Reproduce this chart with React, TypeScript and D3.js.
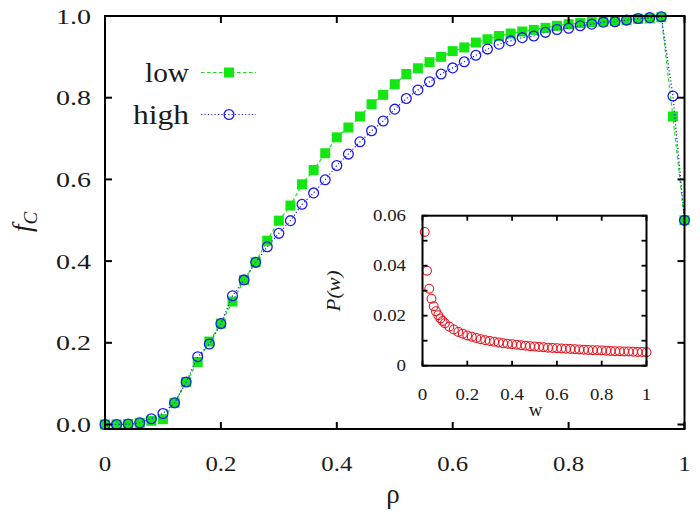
import React from "react";
import * as d3 from "d3";

const rho = [0, 0.02, 0.04, 0.06, 0.08, 0.1, 0.12, 0.14, 0.16, 0.18, 0.2, 0.22, 0.24, 0.26, 0.28, 0.3, 0.32, 0.34, 0.36, 0.38, 0.4, 0.42, 0.44, 0.46, 0.48, 0.5, 0.52, 0.54, 0.56, 0.58, 0.6, 0.62, 0.64, 0.66, 0.68, 0.7, 0.72, 0.74, 0.76, 0.78, 0.8, 0.82, 0.84, 0.86, 0.88, 0.9, 0.92, 0.94, 0.96, 0.98, 1.0];

const low = [0.0, 0.0, 0.001, 0.004, 0.009, 0.013, 0.053, 0.104, 0.153, 0.203, 0.247, 0.301, 0.354, 0.397, 0.45, 0.499, 0.536, 0.588, 0.623, 0.664, 0.703, 0.727, 0.754, 0.784, 0.807, 0.833, 0.858, 0.872, 0.887, 0.9, 0.914, 0.923, 0.935, 0.943, 0.951, 0.957, 0.962, 0.966, 0.971, 0.976, 0.98, 0.983, 0.985, 0.986, 0.988, 0.99, 0.993, 0.994, 0.997, 0.754, 0.5];

const high = [0.0, 0.0, 0.001, 0.004, 0.014, 0.027, 0.053, 0.104, 0.166, 0.197, 0.247, 0.315, 0.354, 0.397, 0.435, 0.468, 0.499, 0.539, 0.567, 0.599, 0.634, 0.662, 0.692, 0.719, 0.743, 0.772, 0.798, 0.819, 0.839, 0.858, 0.873, 0.888, 0.904, 0.919, 0.931, 0.939, 0.947, 0.951, 0.96, 0.967, 0.97, 0.976, 0.98, 0.985, 0.986, 0.99, 0.994, 0.996, 0.998, 0.804, 0.5];

const wVals = [0.01, 0.02, 0.03, 0.04, 0.05, 0.06, 0.07, 0.08, 0.09, 0.1, 0.12, 0.14, 0.16, 0.18, 0.2, 0.22, 0.24, 0.26, 0.28, 0.3, 0.32, 0.34, 0.36, 0.38, 0.4, 0.42, 0.44, 0.46, 0.48, 0.5, 0.52, 0.54, 0.56, 0.58, 0.6, 0.62, 0.64, 0.66, 0.68, 0.7, 0.72, 0.74, 0.76, 0.78, 0.8, 0.82, 0.84, 0.86, 0.88, 0.9, 0.92, 0.94, 0.96, 0.98, 1.0];

const pw = [0.0535, 0.038, 0.0308, 0.0268, 0.0238, 0.0218, 0.0202, 0.0189, 0.0179, 0.017, 0.0156, 0.0145, 0.0135, 0.0128, 0.0121, 0.0116, 0.0111, 0.0106, 0.0102, 0.0099, 0.0096, 0.0093, 0.009, 0.0088, 0.0086, 0.0084, 0.0082, 0.008, 0.0078, 0.0077, 0.0075, 0.0074, 0.0072, 0.0071, 0.007, 0.0069, 0.0068, 0.0067, 0.0066, 0.0065, 0.0064, 0.0063, 0.0062, 0.0062, 0.0061, 0.006, 0.0059, 0.0058, 0.0058, 0.0057, 0.0057, 0.0056, 0.0055, 0.0055, 0.0054];

const mainXTicks = [0, 0.2, 0.4, 0.6, 0.8, 1];
const mainXLabels = ["0", "0.2", "0.4", "0.6", "0.8", "1"];
const mainYTicks = [0, 0.2, 0.4, 0.6, 0.8, 1.0];
const mainYLabels = ["0.0", "0.2", "0.4", "0.6", "0.8", "1.0"];
const insetXTicks = [0, 0.2, 0.4, 0.6, 0.8, 1];
const insetXLabels = ["0", "0.2", "0.4", "0.6", "0.8", "1"];
const insetYTicks = [0, 0.01, 0.02, 0.03, 0.04, 0.05, 0.06];
const insetYLabelTicks = [0, 0.02, 0.04, 0.06];
const insetYLabels = ["0", "0.02", "0.04", "0.06"];

const GREEN = "#14e614";
const BLUE = "#1a1aee";
const RED = "#e8141e";
const FONT = '"Liberation Serif", "Times New Roman", "DejaVu Serif", serif';

const T = (props: any) => <text {...props} style={{ fontFamily: FONT, ...(props.style || {}) }} />;

const stretchLen = (s: string, perChar: number, perDot: number) =>
  s.split("").reduce((a, c) => a + (c === "." ? perDot : perChar), 0);

export default function App() {
  const x = d3.scaleLinear().domain([0, 1]).range([105, 684.5]);
  const y = d3.scaleLinear().domain([-0.011, 1.0]).range([429, 16]);
  const ix = d3.scaleLinear().domain([0, 1]).range([422.5, 646.5]);
  const iy = d3.scaleLinear().domain([0, 0.06]).range([365.7, 215.7]);

  const lowPts = rho.map((r, i) => [r, low[i]] as [number, number]);
  const highPts = rho.map((r, i) => [r, high[i]] as [number, number]);
  const line = d3
    .line<[number, number]>()
    .x((d) => x(d[0]))
    .y((d) => y(d[1]));

  const [x0, x1] = x.range();
  const [yb, yt] = y.range();
  const [ix0, ix1] = ix.range();
  const [iyb, iyt] = iy.range();
  const tl = 7;
  const itl = 5;
  const sq = 10;
  const cr = 4.9;

  return (
    <svg
      width={700}
      height={515}
      style={{ position: "absolute", left: 0, top: 0, background: "#fff" }}
    >
      <rect x={0} y={0} width={700} height={515} fill="#fff" />

      <path d={line(lowPts) || ""} fill="none" stroke={GREEN} strokeWidth={1.2} strokeDasharray="3.5,2.5" />
      {lowPts.map((d, i) => (
        <rect key={"s" + i} x={x(d[0]) - sq / 2} y={y(d[1]) - sq / 2} width={sq} height={sq} fill={GREEN} />
      ))}
      <path d={line(highPts) || ""} fill="none" stroke={BLUE} strokeWidth={1.2} strokeDasharray="1.2,2.2" />
      {highPts.map((d, i) => (
        <circle key={"c" + i} cx={x(d[0])} cy={y(d[1])} r={cr} fill="none" stroke={BLUE} strokeWidth={1.3} />
      ))}

      <rect x={x0} y={yt} width={x1 - x0} height={yb - yt} fill="none" stroke="#000" strokeWidth={2} />
      {mainXTicks.map((t, i) => (
        <g key={"mx" + i}>
          <line x1={x(t)} x2={x(t)} y1={yb} y2={yb - tl} stroke="#000" strokeWidth={2} />
          <line x1={x(t)} x2={x(t)} y1={yt} y2={yt + tl} stroke="#000" strokeWidth={2} />
          <T
            x={x(t)}
            y={471}
            fontSize={21}
            textAnchor="middle"
            fill="#1a1a1a"
            textLength={stretchLen(mainXLabels[i], 12.5, 6)}
            lengthAdjust="spacingAndGlyphs"
          >
            {mainXLabels[i]}
          </T>
        </g>
      ))}
      {mainYTicks.map((t, i) => (
        <g key={"my" + i}>
          <line x1={x0} x2={x0 + tl} y1={y(t)} y2={y(t)} stroke="#000" strokeWidth={2} />
          <line x1={x1} x2={x1 - tl} y1={y(t)} y2={y(t)} stroke="#000" strokeWidth={2} />
          <T
            x={91}
            y={y(t) + 7.5}
            fontSize={21}
            textAnchor="end"
            fill="#1a1a1a"
            textLength={stretchLen(mainYLabels[i], 13.5, 8)}
            lengthAdjust="spacingAndGlyphs"
          >
            {mainYLabels[i]}
          </T>
        </g>
      ))}

      <T x={393} y={503} fontSize={27} textAnchor="middle" fill="#1a1a1a">
        ρ
      </T>
      <T transform="translate(31,222) rotate(-90)" fontSize={27} textAnchor="middle" fill="#1a1a1a" fontStyle="italic">
        f<tspan fontSize={19} dy={6}>C</tspan>
      </T>

      <T x={189} y={82} fontSize={27} textAnchor="end" fill="#1a1a1a" textLength={44} lengthAdjust="spacingAndGlyphs">low</T>
      <line x1={201} x2={256} y1={72.5} y2={72.5} stroke={GREEN} strokeWidth={1.2} strokeDasharray="3.5,2.5" />
      <rect x={229 - sq / 2} y={72.5 - sq / 2} width={sq} height={sq} fill={GREEN} />
      <T x={189} y={124} fontSize={27} textAnchor="end" fill="#1a1a1a" textLength={56} lengthAdjust="spacingAndGlyphs">high</T>
      <line x1={201} x2={256} y1={114.5} y2={114.5} stroke={BLUE} strokeWidth={1.2} strokeDasharray="1.2,2.2" />
      <circle cx={229} cy={114.5} r={cr} fill="none" stroke={BLUE} strokeWidth={1.3} />

      <rect x={ix0} y={iyt} width={ix1 - ix0} height={iyb - iyt} fill="#fff" stroke="none" />
      {wVals.map((w, i) => (
        <circle key={"r" + i} cx={ix(w)} cy={iy(pw[i])} r={4.4} fill="none" stroke={RED} strokeWidth={1.1} />
      ))}
      <rect x={ix0} y={iyt} width={ix1 - ix0} height={iyb - iyt} fill="none" stroke="#000" strokeWidth={2} />
      {insetXTicks.map((t, i) => (
        <g key={"ix" + i}>
          <line x1={ix(t)} x2={ix(t)} y1={iyb} y2={iyb - itl} stroke="#000" strokeWidth={1.8} />
          <line x1={ix(t)} x2={ix(t)} y1={iyt} y2={iyt + itl} stroke="#000" strokeWidth={1.8} />
          <T
            x={ix(t)}
            y={400}
            fontSize={17}
            textAnchor="middle"
            fill="#1a1a1a"
            textLength={stretchLen(insetXLabels[i], 9.5, 4.5)}
            lengthAdjust="spacingAndGlyphs"
          >
            {insetXLabels[i]}
          </T>
        </g>
      ))}
      {insetYTicks.map((t, i) => (
        <g key={"iy" + i}>
          <line x1={ix0} x2={ix0 + itl} y1={iy(t)} y2={iy(t)} stroke="#000" strokeWidth={1.8} />
          <line x1={ix1} x2={ix1 - itl} y1={iy(t)} y2={iy(t)} stroke="#000" strokeWidth={1.8} />
        </g>
      ))}
      {insetYLabelTicks.map((t, i) => (
        <T
          key={"iyl" + i}
          x={406}
          y={iy(t) + 5.5}
          fontSize={17}
          textAnchor="end"
          fill="#1a1a1a"
          textLength={stretchLen(insetYLabels[i], 9.5, 4.5)}
          lengthAdjust="spacingAndGlyphs"
        >
          {insetYLabels[i]}
        </T>
      ))}
      <T x={535.5} y={416} fontSize={19} textAnchor="middle" fill="#1a1a1a">w</T>
      <T transform="translate(340,291) rotate(-90)" fontSize={19} textAnchor="middle" fill="#1a1a1a" fontStyle="italic" textLength={41} lengthAdjust="spacingAndGlyphs">
        P(w)
      </T>
    </svg>
  );
}
